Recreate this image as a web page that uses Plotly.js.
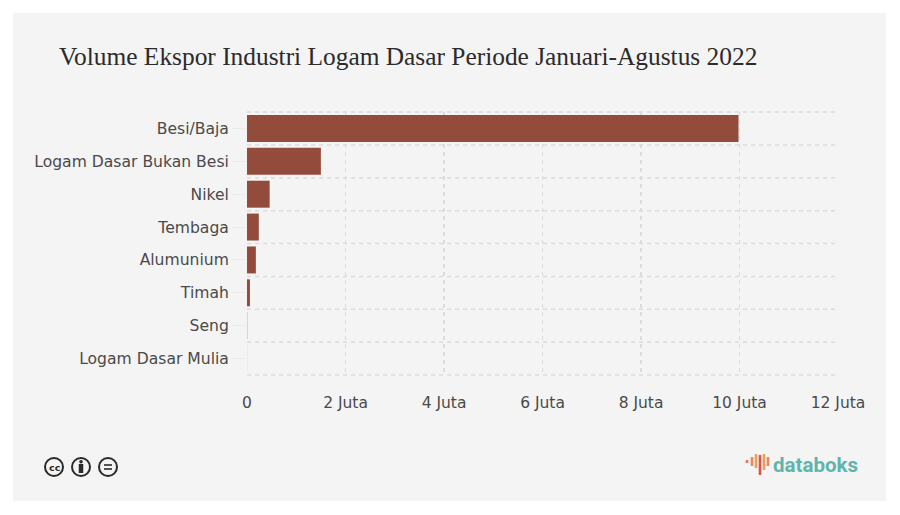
<!DOCTYPE html>
<html><head><meta charset="utf-8">
<script src="https://cdn.plot.ly/plotly-3.0.1.min.js"></script>
<style>html,body{margin:0;padding:0;background:#fff}</style></head>
<body><div id="chart" style="width:900px;height:515px"></div>
<script>
const categories = ["Besi/Baja","Logam Dasar Bukan Besi","Nikel","Tembaga","Alumunium","Timah","Seng","Logam Dasar Mulia"];
const volumes = [9980000,1500000,460000,240000,180000,60000,4000,1000];
const tickValues = [0,2000000,4000000,6000000,8000000,10000000,12000000];
const tickLabels = ["0","2 Juta","4 Juta","6 Juta","8 Juta","10 Juta","12 Juta"];
const titleText = "Volume Ekspor Industri Logam Dasar Periode Januari-Agustus 2022";
const W=900,H=515,L=247,R=62,T=112,B=140;
const px=x=>(x-L)/(W-L-R), py=y=>1-(y-T)/(H-T-B);
const grid="#dcdcdc";
const shapes=[{type:"rect",xref:"paper",yref:"paper",x0:px(13),x1:px(886),y0:py(501),y1:py(13),fillcolor:"#f4f4f4",line:{width:0},layer:"below"}];
// row separators
[0,1,2,3,4,5,6,7,8].forEach(i=>shapes.push({type:"line",xref:"paper",yref:"y domain",x0:0,x1:1,y0:i/8,y1:i/8,line:{color:grid,width:1.5,dash:"4px,4px"},layer:"below"}));
// CC icons
[54,81,108].forEach(c=>shapes.push({type:"circle",xref:"paper",yref:"paper",x0:px(c-9),x1:px(c+9),y0:py(476),y1:py(458),line:{color:"#2a2a2a",width:2},fillcolor:"rgba(0,0,0,0)"}));
// person icon
shapes.push({type:"line",xref:"paper",yref:"paper",x0:px(81),x1:px(81),y0:py(464),y1:py(473),line:{color:"#2a2a2a",width:4.5}});
shapes.push({type:"circle",xref:"paper",yref:"paper",x0:px(79.2),x1:px(82.8),y0:py(463.5),y1:py(460),fillcolor:"#2a2a2a",line:{width:0}});
// equals icon
[465,469].forEach(y=>shapes.push({type:"line",xref:"paper",yref:"paper",x0:px(104),x1:px(112),y0:py(y),y1:py(y),line:{color:"#2a2a2a",width:1.6}}));
// databoks logo
[[747,460,463,"#e8765a"],[752,457,466,"#e8895a"],[756,454,468,"#e8a05a"],[760,455,475,"#d9534f"],[764,454,470,"#e8a05a"],[768,457,466,"#e8895a"]]
 .forEach(b=>shapes.push({type:"line",xref:"paper",yref:"paper",x0:px(b[0]),x1:px(b[0]),y0:py(b[2]),y1:py(b[1]),line:{color:b[3],width:2.6}}));
const annotations=[
 {text:"<b>cc</b>",xref:"paper",yref:"paper",x:px(54),y:py(467),showarrow:false,font:{family:"DejaVu Sans",size:9.5,color:"#2a2a2a"},xanchor:"center",yanchor:"middle"},
 {text:"<b>databoks</b>",xref:"paper",yref:"paper",x:px(771),y:py(465),showarrow:false,font:{family:"Roboto",size:20.5,color:"#5fb5ac"},xanchor:"left",yanchor:"middle"}
];
const layout={width:W,height:H,paper_bgcolor:"#fff",plot_bgcolor:"rgba(0,0,0,0)",showlegend:false,
 margin:{l:L,r:R,t:T,b:B,pad:0},bargap:0.18,
 title:{text:titleText,font:{family:"Liberation Serif",size:25.4,color:"#2b2b2b"},x:59/W,xanchor:"left",y:1-56/H,yanchor:"middle"},
 xaxis:{range:[0,12000000],tickvals:tickValues,ticktext:tickLabels,showgrid:true,griddash:"4px,4px",gridcolor:grid,gridwidth:1.5,zeroline:false,ticks:"",
  tickfont:{family:"DejaVu Sans",size:15.5,color:"#4a4a4a"},showline:false,automargin:false,ticklabelstandoff:16},
 yaxis:{autorange:false,range:[7.5,-0.5],type:"category",categoryorder:"array",categoryarray:categories,showgrid:false,zeroline:false,ticks:"outside",ticklen:14,tickcolor:"#eaeaea",
  tickfont:{family:"DejaVu Sans",size:15.6,color:"#4a4a4a"},automargin:false},
 shapes:shapes,annotations:annotations};
Plotly.newPlot("chart",[{type:"bar",orientation:"h",y:categories,x:volumes,marker:{color:"#934c3b"},hoverinfo:"x+y"}],layout,{displayModeBar:false,staticPlot:true});
</script></body></html>
